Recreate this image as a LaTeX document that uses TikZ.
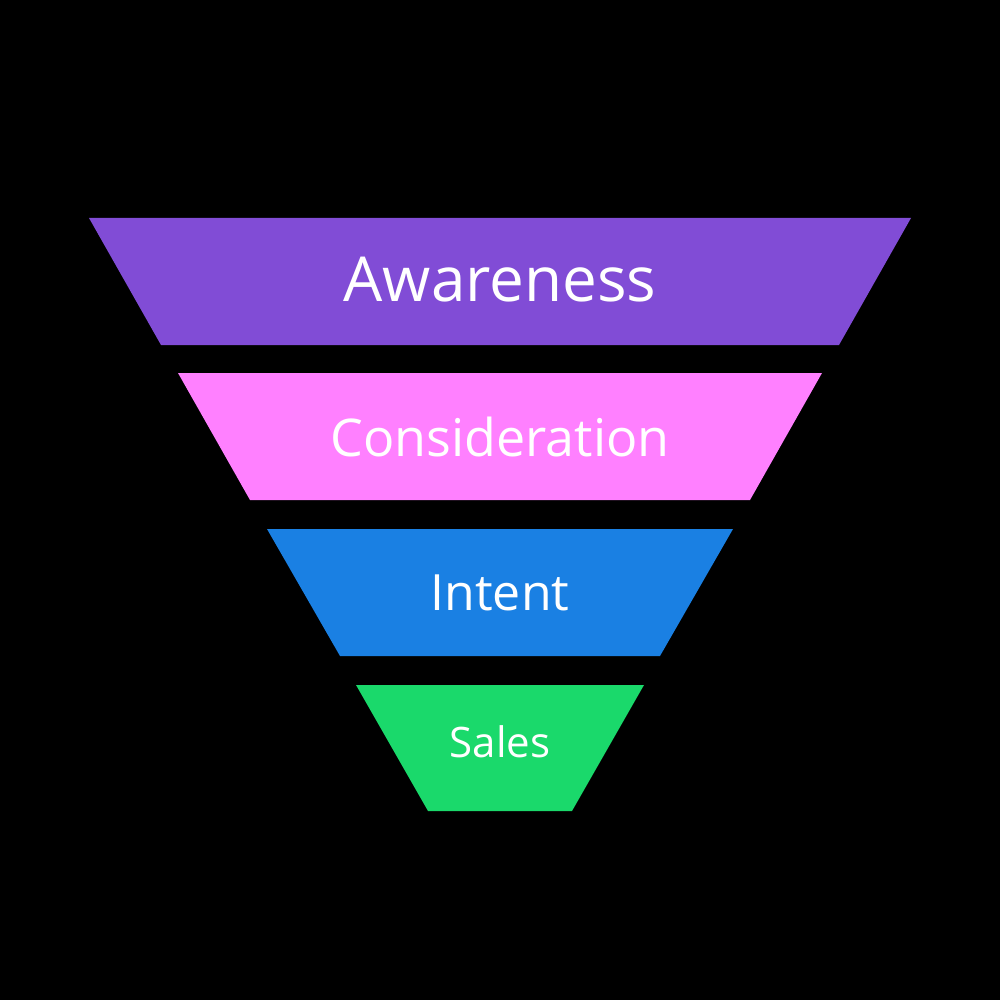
\documentclass[tikz,border=0pt]{standalone}
\usepackage{fontspec}
\setmainfont{Open Sans}
\definecolor{cA}{HTML}{814CD6}
\definecolor{cB}{HTML}{FF80FF}
\definecolor{cC}{HTML}{1A80E3}
\definecolor{cD}{HTML}{1AD96B}
\begin{document}
\begin{tikzpicture}[x=1pt,y=-1pt,
  lbl/.style={text=white,inner sep=0pt,anchor=center}]
\fill[black] (0,0) rectangle (1000,1000);
\useasboundingbox (0,0) rectangle (1000,1000);
\fill[cA] (89,218) -- (911,218) -- (839,345) -- (161,345) -- cycle;
\fill[cB] (178,373) -- (822,373) -- (750,500) -- (250,500) -- cycle;
\fill[cC] (267,529) -- (733,529) -- (660,656) -- (340,656) -- cycle;
\fill[cD] (356,685) -- (644,685) -- (572,811) -- (428,811) -- cycle;
\node[lbl,font=\fontsize{62}{70}\selectfont] (a) at (500,280) {Awareness};
\node[lbl,font=\fontsize{52}{60}\selectfont] (b) at (500,437) {Consideration};
\node[lbl,font=\fontsize{50}{58}\selectfont] (c) at (500,593) {Intent};
\node[lbl,font=\fontsize{42}{50}\selectfont] (d) at (500,742) {Sales};
\end{tikzpicture}
\end{document}
